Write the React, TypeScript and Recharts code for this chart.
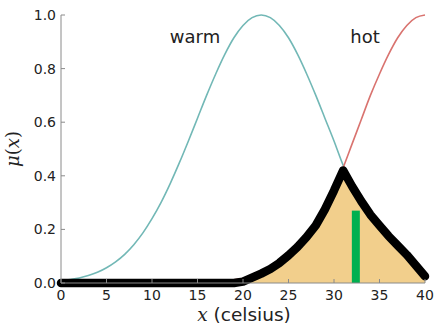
import React from "react";
import {
  ComposedChart,
  Line,
  Area,
  XAxis,
  YAxis,
  ReferenceLine,
} from "recharts";

// temperature grid (celsius)
const temps = [
  0, 1, 2, 3, 4, 5, 6, 7, 8, 9, 10, 11, 12, 13, 14, 15, 16, 17, 18, 19, 20,
  21, 22, 23, 24, 25, 26, 27, 28, 29, 30, 31, 32, 33, 34, 35, 36, 37, 38, 39,
  40,
];

// membership of "warm"
const warmMembership = [
  0.008, 0.013, 0.019, 0.028, 0.04, 0.057, 0.079, 0.107, 0.143, 0.187, 0.24,
  0.301, 0.371, 0.448, 0.53, 0.615, 0.7, 0.78, 0.853, 0.915, 0.961, 0.99, 1.0,
  0.99, 0.961, 0.915, 0.853, 0.78, 0.7, 0.615, 0.53, 0.44, 0.37, 0.305, 0.25,
  0.2, 0.16, 0.125, 0.09, 0.06, 0.04,
];

// membership of "hot"
const hotMembership = [
  0, 0, 0, 0, 0, 0, 0, 0, 0, 0, 0, 0, 0, 0, 0.001, 0.002, 0.003, 0.005, 0.008,
  0.012, 0.017, 0.025, 0.036, 0.052, 0.075, 0.103, 0.135, 0.172, 0.215, 0.275,
  0.345, 0.43, 0.52, 0.61, 0.7, 0.78, 0.853, 0.915, 0.961, 0.99, 1.0,
];

// aggregated output (thick black outline + filled area)
const aggregated = [
  0, 0, 0, 0, 0, 0, 0, 0, 0, 0, 0, 0, 0, 0, 0, 0, 0, 0, 0, 0, 0.005, 0.02,
  0.035, 0.052, 0.075, 0.103, 0.135, 0.172, 0.215, 0.275, 0.345, 0.42, 0.36,
  0.305, 0.255, 0.215, 0.175, 0.14, 0.105, 0.065, 0.025,
];

const xTicks = [0, 5, 10, 15, 20, 25, 30, 35, 40];
const yTicks = [0, 0.2, 0.4, 0.6, 0.8, 1.0];

// defuzzified result
const centroidX = 32.4;
const centroidHeight = 0.27;

const chartData = temps.map((t, i) => ({
  x: t,
  warm: warmMembership[i],
  hot: hotMembership[i],
  agg: aggregated[i],
}));

const AXIS = "#8a8a8a";
const TEXT = "#222";
const SANS = "'DejaVu Sans', sans-serif";
const SERIF = "'DejaVu Serif', serif";

const YTick = (props: any) => {
  const { x, y, payload } = props;
  return (
    <g>
      <line x1={x} y1={y} x2={x + 4} y2={y} stroke={AXIS} />
      <text
        x={x - 5}
        y={y}
        dy={5}
        textAnchor="end"
        fontSize={14}
        fontFamily={SANS}
        fill={TEXT}
      >
        {Number(payload.value).toFixed(1)}
      </text>
    </g>
  );
};

const XTick = (props: any) => {
  const { x, y, payload } = props;
  return (
    <g>
      <line x1={x} y1={y} x2={x} y2={y - 4} stroke={AXIS} />
      <text
        x={x}
        y={y + 17}
        textAnchor="middle"
        fontSize={14}
        fontFamily={SANS}
        fill={TEXT}
      >
        {payload.value}
      </text>
    </g>
  );
};

export default function App() {
  return (
    <div
      style={{
        position: "absolute",
        left: 0,
        top: 0,
        width: 434,
        height: 326,
        background: "#fff",
      }}
    >
      <ComposedChart
        width={434}
        height={326}
        data={chartData}
        margin={{ top: 15, right: 9, bottom: 0, left: 0 }}
      >
        <XAxis
          dataKey="x"
          type="number"
          domain={[0, 40]}
          ticks={xTicks}
          height={43}
          tickSize={0}
          tickMargin={0}
          tickLine={false}
          axisLine={{ stroke: AXIS }}
          tick={<XTick />}
        />
        <YAxis
          type="number"
          domain={[0, 1]}
          ticks={yTicks}
          width={61}
          tickSize={0}
          tickMargin={0}
          tickLine={false}
          axisLine={{ stroke: AXIS }}
          tick={<YTick />}
        />
        <Line
          dataKey="warm"
          type="monotone"
          stroke="#72b8b6"
          strokeWidth={1.6}
          dot={false}
          isAnimationActive={false}
        />
        <Line
          dataKey="hot"
          type="monotone"
          stroke="#d9736f"
          strokeWidth={1.6}
          dot={false}
          isAnimationActive={false}
        />
        <Area
          dataKey="agg"
          type="linear"
          fill="#f2cf8c"
          fillOpacity={1}
          stroke="none"
          isAnimationActive={false}
        />
        <Line
          dataKey="agg"
          type="linear"
          stroke="#000"
          strokeWidth={8.5}
          strokeLinejoin="round"
          strokeLinecap="round"
          dot={false}
          isAnimationActive={false}
        />
        <ReferenceLine
          segment={[
            { x: centroidX, y: 0 },
            { x: centroidX, y: centroidHeight },
          ]}
          stroke="#00b050"
          strokeWidth={8}
          ifOverflow="visible"
        />
      </ComposedChart>
      <svg
        width={434}
        height={326}
        style={{ position: "absolute", left: 0, top: 0, pointerEvents: "none" }}
      >
        <text x={195} y={43} textAnchor="middle" fontSize={18} fontFamily={SANS} fill={TEXT}>
          warm
        </text>
        <text x={365} y={43} textAnchor="middle" fontSize={18} fontFamily={SANS} fill={TEXT}>
          hot
        </text>
        <text x={244} y={321} textAnchor="middle" fontSize={18.5} fill={TEXT}>
          <tspan fontFamily={SERIF} fontStyle="italic">x</tspan>
          <tspan fontFamily={SANS}> (celsius)</tspan>
        </text>
        <g transform="translate(19 149) rotate(-90)">
          <text x={0} y={0} textAnchor="middle" fontSize={18} fontFamily={SERIF} fill={TEXT}>
            <tspan fontStyle="italic">μ</tspan>
            <tspan>(</tspan>
            <tspan fontStyle="italic">x</tspan>
            <tspan>)</tspan>
          </text>
        </g>
      </svg>
    </div>
  );
}
